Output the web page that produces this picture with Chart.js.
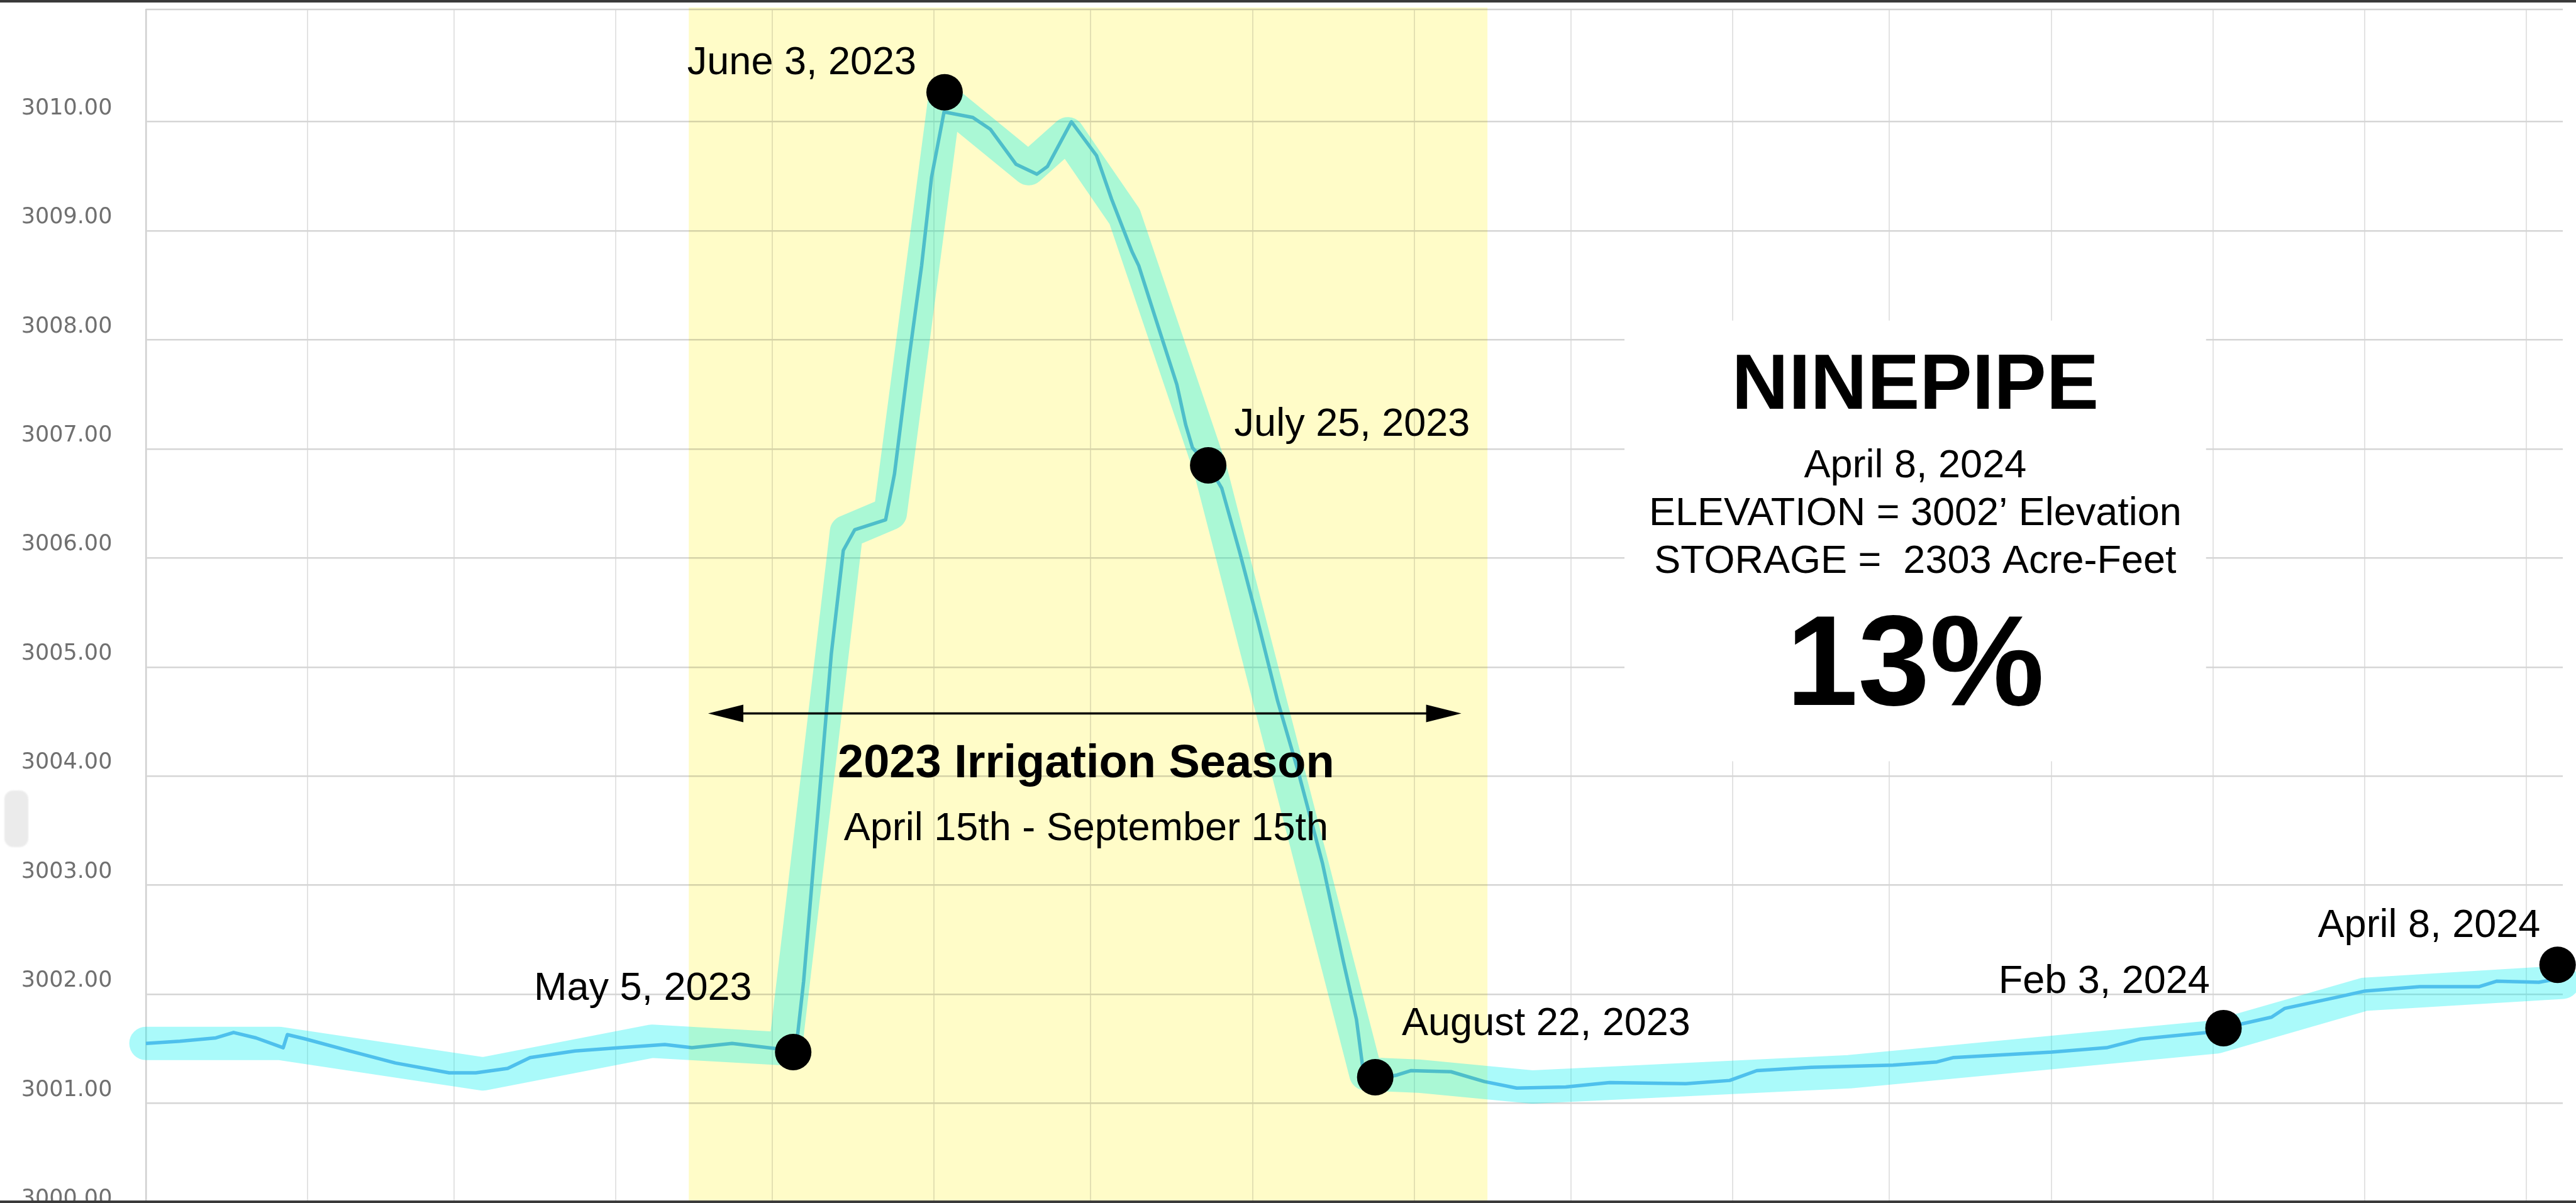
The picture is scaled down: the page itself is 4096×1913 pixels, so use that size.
<!DOCTYPE html>
<html>
<head>
<meta charset="utf-8">
<script src="https://cdn.jsdelivr.net/npm/chart.js@4.4.1/dist/chart.umd.min.js"></script>
<style>
  html, body { margin: 0; padding: 0; background: #ffffff; overflow: hidden; width: 4096px; height: 1913px; }
  #wrap { position: relative; width: 4096px; height: 1913px; overflow: hidden; background: #fff; }
  #c { position: absolute; left: 0; top: 0; }
  .frame { position: absolute; left: 0; width: 4096px; height: 4px; background: #3a3a3a; }
  .blob { position: absolute; left: 7px; top: 1257px; width: 38px; height: 90px; background: #ebebeb; border-radius: 14px; filter: blur(1px); }
</style>
</head>
<body>
<div id="wrap">
  <canvas id="c" width="4096" height="1954"></canvas>
  <div class="frame" style="top:0"></div>
  <div class="frame" style="bottom:0"></div>
  <div class="blob"></div>
</div>
<script>
// ---------------- DATA (x = days since Jan 1, 2023) ----------------
const monthTickDays = [31, 59, 90, 120, 151, 181, 212, 243, 273, 304, 334, 365, 396, 425, 456];
const yTicks = [3000, 3001, 3002, 3003, 3004, 3005, 3006, 3007, 3008, 3009, 3010];

// measured reservoir elevation (thin line)
const lineDays = [0, 6.5, 13.4, 16.8, 21.1, 26.3, 27.1, 30.6, 39.1, 47.8, 58.1, 63.2, 69.3, 73.6, 82.2, 90.8, 99.4, 104.6, 112.3, 119.2, 124.5,
  126.0, 131.3, 133.6, 135.8, 141.7, 143.4, 146.1, 148.6, 150.5, 152.9, 158.4, 161.8, 166.7, 170.7, 172.7, 177.3, 182.1, 185.0, 188.9, 190.2,
  193.4, 197.5, 199.2, 200.5, 203.5, 206.1, 209.5, 213.0, 216.8, 220.7, 225.4, 229.4, 231.9, 233.2, 235.5, 239.7, 242.3, 250.0, 256.4, 262.6,
  272.0, 280.4, 295.0, 303.4, 308.6, 319.0, 334.7, 343.1, 346.3, 365.1, 375.6, 382.1, 395.0, 401.6, 407.2, 409.7, 419.4, 425.1, 435.6, 447.0,
  450.3, 458.4, 463.0];
const lineElev = [3001.55, 3001.57, 3001.60, 3001.65, 3001.60, 3001.51, 3001.63, 3001.59, 3001.48, 3001.37, 3001.28, 3001.28, 3001.32, 3001.42, 3001.48, 3001.51, 3001.54, 3001.51, 3001.55, 3001.51, 3001.48,
  3002.12, 3005.12, 3006.07, 3006.26, 3006.35, 3006.77, 3007.80, 3008.68, 3009.49, 3010.09, 3010.04, 3009.93, 3009.61, 3009.52, 3009.59, 3010.00, 3009.69, 3009.29, 3008.81, 3008.68,
  3008.20, 3007.59, 3007.22, 3007.01, 3006.85, 3006.64, 3006.06, 3005.42, 3004.69, 3004.05, 3003.20, 3002.30, 3001.77, 3001.30, 3001.22, 3001.26, 3001.30, 3001.29, 3001.20, 3001.14,
  3001.15, 3001.19, 3001.18, 3001.21, 3001.30, 3001.33, 3001.35, 3001.38, 3001.42, 3001.47, 3001.51, 3001.59, 3001.65, 3001.73, 3001.79, 3001.87, 3001.97, 3002.03, 3002.07, 3002.07,
  3002.12, 3002.11, 3002.15];

// hand-drawn highlight band
const bandDays = [0, 25.5, 64.6, 96.9, 122.5, 134.2, 142.6, 153, 169.1, 176.6, 187.5, 203.8, 233.7, 243.7, 265.7, 326.3, 396.7, 425, 463];
const bandElev = [3001.55, 3001.55, 3001.27, 3001.57, 3001.50, 3006.24, 3006.41, 3010.2, 3009.57, 3009.89, 3009.13, 3006.83, 3001.27, 3001.25, 3001.15, 3001.29, 3001.61, 3002.00, 3002.11];

// highlighted dates
const markerDays = [124, 153, 203.5, 235.5, 398, 462];
const markerElev = [3001.47, 3010.27, 3006.85, 3001.24, 3001.69, 3002.27];
const markerLabels = ['May 5, 2023', 'June 3, 2023', 'July 25, 2023', 'August 22, 2023', 'Feb 3, 2024', 'April 8, 2024'];

// irrigation season (Apr 15 – Sep 15, 2023)
const seasonDays = [104, 257];
const seasonTitle = '2023 Irrigation Season';
const seasonSubtitle = 'April 15th - September 15th';

// info box text
const boxTitle = 'NINEPIPE';
const boxLines = ['April 8, 2024', 'ELEVATION = 3002\u2019 Elevation', 'STORAGE =  2303 Acre-Feet'];
const boxPercent = '13%';

// ---------------- LAYOUT (in data units, placed via the chart scales) ----------------
const LABEL_POS = [
  { x: 116.1, y: 3002.047, align: 'right' },
  { x: 147.6, y: 3010.534, align: 'right' },
  { x: 208.5, y: 3007.222, align: 'left' },
  { x: 240.6, y: 3001.724, align: 'left' },
  { x: 395.4, y: 3002.112, align: 'right' },
  { x: 458.7, y: 3002.628, align: 'right' }
];
const BOX = { x1: 283.25, x2: 394.66, yTop: 3008.177, yBottom: 3004.137, cx: 338.95,
  titleY: 3007.568, lineY: [3006.840, 3006.401, 3005.963], pctY: 3004.981 };
const ARROW = { x1: 107.7, x2: 252.0, y: 3004.575 };
const SEASON_TEXT = { x: 180.1, titleY: 3004.109, subY: 3003.514 };

const FONT = '"Liberation Sans", Arial, Helvetica, sans-serif';

const overlay = {
  id: 'overlay',
  beforeDatasetsDraw(chart) {
    const { ctx, chartArea: a, scales: { x, y } } = chart;
    ctx.save();
    ctx.strokeStyle = '#d2d2d2';
    ctx.lineWidth = 2.6;
    ctx.beginPath();
    ctx.moveTo(a.left, a.top);
    ctx.lineTo(a.right, a.top);
    ctx.stroke();
    const bx1 = x.getPixelForValue(BOX.x1), bx2 = x.getPixelForValue(BOX.x2);
    const by1 = y.getPixelForValue(BOX.yTop), by2 = y.getPixelForValue(BOX.yBottom);
    ctx.fillStyle = '#ffffff';
    ctx.fillRect(bx1, by1, bx2 - bx1, by2 - by1);
    ctx.restore();
  },
  afterDatasetDraw(chart, args) {
    if (args.index !== 2) return; // after the thin elevation line
    const { ctx, chartArea: a, scales: { x } } = chart;
    const x1 = x.getPixelForValue(seasonDays[0]), x2 = x.getPixelForValue(seasonDays[1]);
    ctx.save();
    ctx.globalCompositeOperation = 'multiply';
    ctx.fillStyle = '#fffcc8';
    ctx.fillRect(x1, a.top - 3, x2 - x1, a.bottom - a.top + 3);
    ctx.restore();
  },
  afterDraw(chart) {
    const { ctx, scales: { x, y } } = chart;
    ctx.save();
    ctx.fillStyle = '#000';
    ctx.textBaseline = 'middle';
    ctx.font = `400 63px ${FONT}`;
    markerLabels.forEach((t, i) => {
      const p = LABEL_POS[i];
      ctx.textAlign = p.align;
      ctx.fillText(t, x.getPixelForValue(p.x), y.getPixelForValue(p.y));
    });
    const ax1 = x.getPixelForValue(ARROW.x1), ax2 = x.getPixelForValue(ARROW.x2), ay = y.getPixelForValue(ARROW.y);
    const hl = 56, hw = 14;
    ctx.strokeStyle = '#000';
    ctx.lineWidth = 3.5;
    ctx.beginPath();
    ctx.moveTo(ax1 + hl * 0.8, ay);
    ctx.lineTo(ax2 - hl * 0.8, ay);
    ctx.stroke();
    ctx.beginPath();
    ctx.moveTo(ax1, ay); ctx.lineTo(ax1 + hl, ay - hw); ctx.lineTo(ax1 + hl, ay + hw); ctx.closePath();
    ctx.fill();
    ctx.beginPath();
    ctx.moveTo(ax2, ay); ctx.lineTo(ax2 - hl, ay - hw); ctx.lineTo(ax2 - hl, ay + hw); ctx.closePath();
    ctx.fill();
    ctx.textAlign = 'center';
    const sx = x.getPixelForValue(SEASON_TEXT.x);
    ctx.font = `700 74px ${FONT}`;
    ctx.fillText(seasonTitle, sx, y.getPixelForValue(SEASON_TEXT.titleY));
    ctx.font = `400 63px ${FONT}`;
    ctx.fillText(seasonSubtitle, sx, y.getPixelForValue(SEASON_TEXT.subY));
    const bx = x.getPixelForValue(BOX.cx);
    ctx.font = `700 125px ${FONT}`;
    ctx.fillText(boxTitle, bx, y.getPixelForValue(BOX.titleY));
    ctx.font = `400 63px ${FONT}`;
    boxLines.forEach((t, i) => ctx.fillText(t, bx, y.getPixelForValue(BOX.lineY[i])));
    ctx.font = `700 205px ${FONT}`;
    ctx.fillText(boxPercent, bx, y.getPixelForValue(BOX.pctY));
    ctx.restore();
  }
};

const toXY = (xs, ys) => xs.map((d, i) => ({ x: d, y: ys[i] }));

new Chart(document.getElementById('c'), {
  type: 'line',
  data: {
    datasets: [
      { // index 0: markers (drawn last, on top)
        label: 'Highlighted dates',
        data: toXY(markerDays, markerElev),
        showLine: false,
        pointRadius: 29,
        pointHoverRadius: 29,
        pointBackgroundColor: '#000',
        pointBorderWidth: 0,
        clip: false
      },
      { // index 1: translucent highlight band
        label: 'Highlight',
        data: toXY(bandDays, bandElev),
        borderColor: 'rgba(0,240,240,0.335)',
        borderWidth: 53,
        pointRadius: 0,
        tension: 0,
        borderJoinStyle: 'round',
        borderCapStyle: 'round',
        clip: false
      },
      { // index 2: elevation line (drawn first)
        label: 'Elevation',
        data: toXY(lineDays, lineElev),
        borderColor: '#75a8ea',
        borderWidth: 5.5,
        pointRadius: 0,
        tension: 0,
        borderJoinStyle: 'round',
        clip: false
      }
    ]
  },
  options: {
    responsive: false,
    animation: false,
    devicePixelRatio: 1,
    layout: { autoPadding: false, padding: { top: 15, right: 21, bottom: 0, left: 0 } },
    plugins: { legend: { display: false }, tooltip: { enabled: false } },
    events: [],
    scales: {
      x: {
        type: 'linear',
        min: 0,
        max: 463,
        afterBuildTicks: s => { s.ticks = monthTickDays.map(v => ({ value: v })); },
        afterFit: s => { s.height = 0; s.paddingLeft = 0; s.paddingRight = 0; },
        grid: { color: '#e3e3e3', lineWidth: 2, drawTicks: false },
        border: { display: false },
        ticks: { display: false }
      },
      y: {
        type: 'linear',
        min: 2999.85,
        max: 3011.03,
        afterBuildTicks: s => { s.ticks = yTicks.map(v => ({ value: v })); },
        afterFit: s => { s.width = 232; s.paddingTop = 0; s.paddingBottom = 0; },
        grid: { color: '#d5d5d5', lineWidth: 2.6, drawTicks: false },
        border: { display: true, color: '#d0d0d0', width: 2.5 },
        ticks: {
          padding: 53.6,
          labelOffset: -21,
          color: '#707070',
          font: { family: '"DejaVu Sans"', size: 35 },
          callback: v => Number(v).toFixed(2)
        }
      }
    }
  },
  plugins: [overlay]
});
</script>
</body>
</html>
